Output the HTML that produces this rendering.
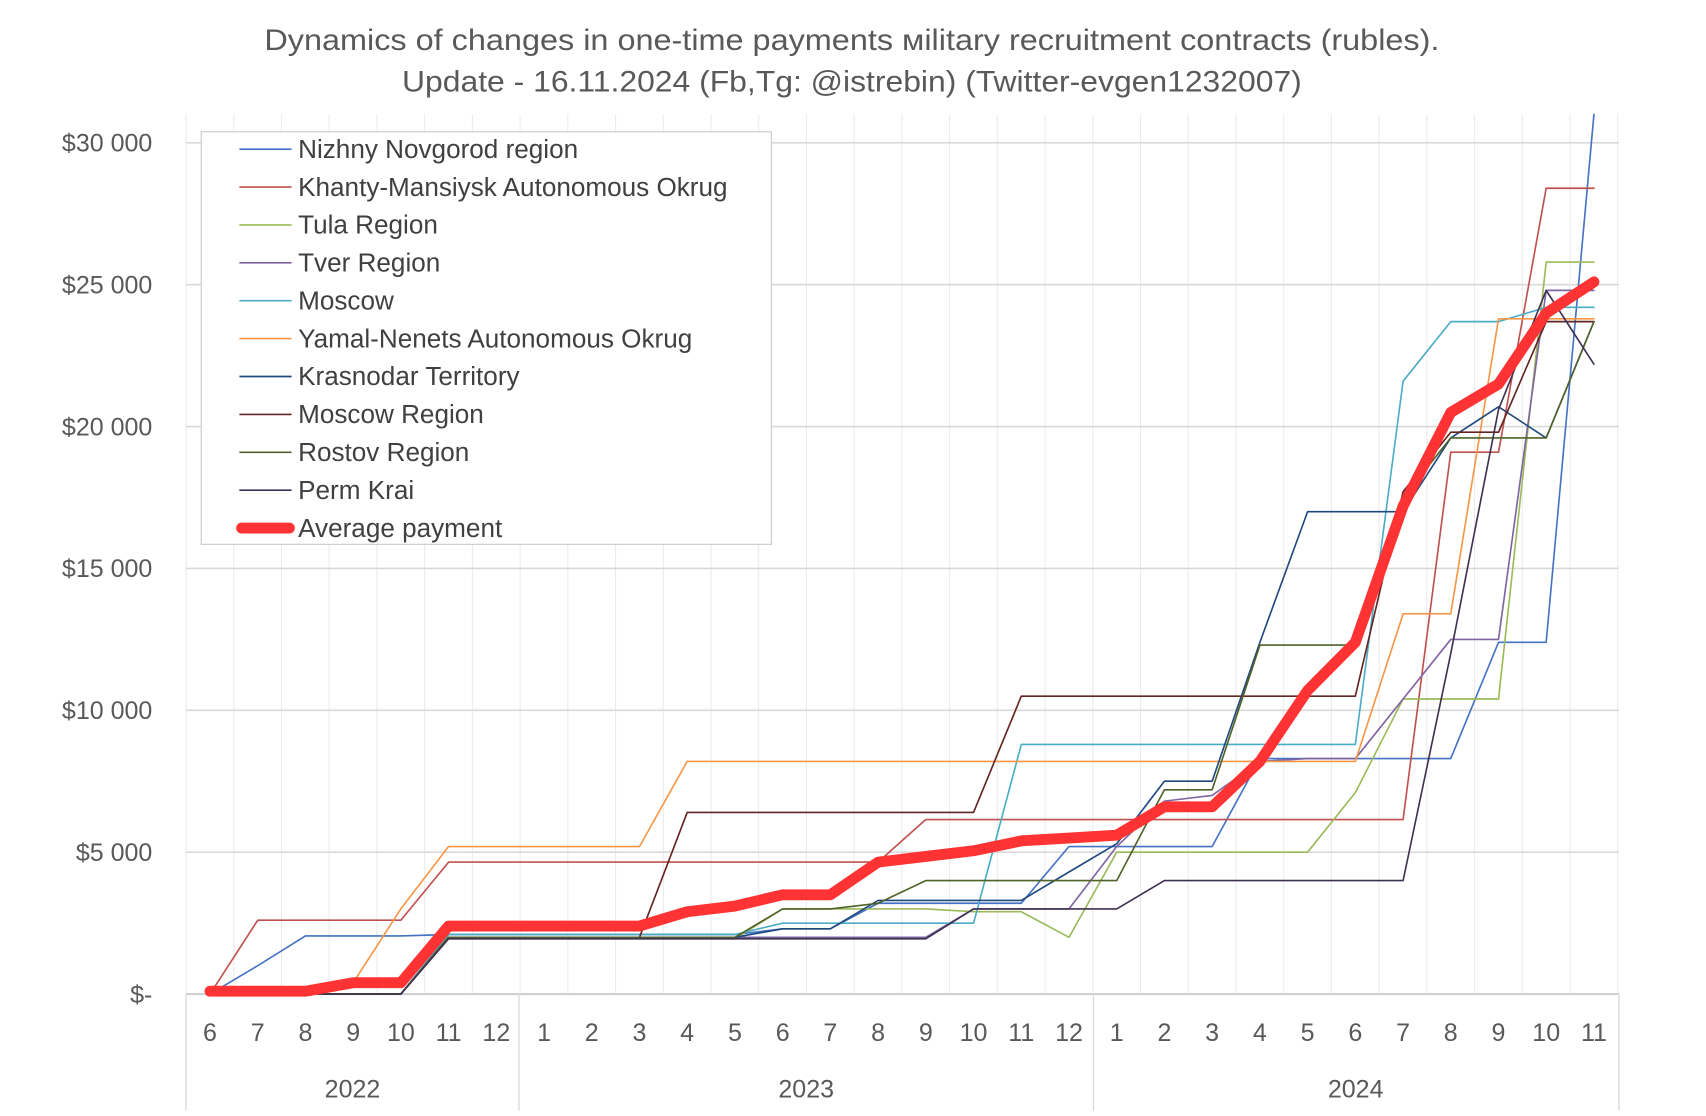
<!DOCTYPE html>
<html><head><meta charset="utf-8"><style>
html,body{margin:0;padding:0;background:#fff;}
svg{display:block;font-family:"Liberation Sans",sans-serif;}
</style></head><body>
<svg id="c" width="1706" height="1116" viewBox="0 0 1568 1025" preserveAspectRatio="none" xmlns="http://www.w3.org/2000/svg">
<g id="grid"></g>
<text x="783" y="46" font-size="27" fill="#595959" text-anchor="middle" textLength="1080" lengthAdjust="spacingAndGlyphs">Dynamics of changes in one-time payments мilitary recruitment contracts (rubles).</text>
<text x="783" y="84" font-size="27" fill="#595959" text-anchor="middle" textLength="827" lengthAdjust="spacingAndGlyphs">Update - 16.11.2024 (Fb,Tg: @istrebin) (Twitter-evgen1232007)</text>
<g id="series"></g>
<g id="labels" font-size="23" fill="#595959"></g>
<rect x="185" y="121" width="524" height="379" fill="#fff" stroke="#d0d0d0" stroke-width="1.2"/>
<g id="legend" font-size="24" fill="#404040"></g>
</svg>
<script>
const NS="http://www.w3.org/2000/svg";
function el(p,t,a,txt){const e=document.createElementNS(NS,t);for(const k in a)e.setAttribute(k,a[k]);if(txt!==undefined)e.textContent=txt;document.getElementById(p).appendChild(e);return e;}
const X0=193,DX=(1465-193)/29,L=171,R=1488,Y0=913;
const Y=v=>Y0-v*26.06;
for(let k=0;k<=30;k++){const x=L+k*DX;el("grid","line",{x1:x,y1:105,x2:x,y2:913,stroke:"#ebebeb","stroke-width":1});}
for(let i=1;i<=6;i++){el("grid","line",{x1:L,y1:Y(i*5),x2:R,y2:Y(i*5),stroke:"#d9d9d9","stroke-width":1.5});}
el("grid","line",{x1:L,y1:913,x2:R,y2:913,stroke:"#d0d0d0","stroke-width":2});
[171,477,1005,1488].forEach(x=>el("grid","line",{x1:x,y1:913,x2:x,y2:1020,stroke:"#d9d9d9","stroke-width":1.2}));
const yl=["$-","$5 000","$10 000","$15 000","$20 000","$25 000","$30 000"];
yl.forEach((t,i)=>el("labels","text",{x:140,y:Y(i*5)+8,"text-anchor":"end"},t));
const months=[6,7,8,9,10,11,12,1,2,3,4,5,6,7,8,9,10,11,12,1,2,3,4,5,6,7,8,9,10,11];
months.forEach((m,i)=>el("labels","text",{x:X0+i*DX,y:956,"text-anchor":"middle"},m));
el("labels","text",{x:324,y:1008,"text-anchor":"middle"},"2022");
el("labels","text",{x:741,y:1008,"text-anchor":"middle"},"2023");
el("labels","text",{x:1246,y:1008,"text-anchor":"middle"},"2024");
const S=[
["Nizhny Novgorod region","#4472C4",[0,1,2.05,2.05,2.05,2.1,2.1,2.1,2.1,2.1,2.1,2.1,2.3,2.3,3.2,3.2,3.2,3.2,5.2,5.2,5.2,5.2,8.3,8.3,8.3,8.3,8.3,12.4,12.4,31]],
["Khanty-Mansiysk Autonomous Okrug","#C0504D",[0,2.6,2.6,2.6,2.6,4.65,4.65,4.65,4.65,4.65,4.65,4.65,4.65,4.65,4.65,6.15,6.15,6.15,6.15,6.15,6.15,6.15,6.15,6.15,6.15,6.15,19.1,19.1,28.4,28.4]],
["Tula Region","#9BBB59",[0,0,0,0,0,1.95,1.95,1.95,1.95,1.95,1.95,1.95,3,3,3,3,2.9,2.9,2,5,5,5,5,5,7.1,10.4,10.4,10.4,25.8,25.8]],
["Tver Region","#8064A2",[0,0,0,0,0,2,2,2,2,2,2,2,2,2,2,2,3,3,3,5.2,6.8,7,8.2,8.3,8.3,10.4,12.5,12.5,24.8,24.8]],
["Moscow","#4BACC6",[0,0,0,0,0,2.1,2.1,2.1,2.1,2.1,2.1,2.1,2.5,2.5,2.5,2.5,2.5,8.8,8.8,8.8,8.8,8.8,8.8,8.8,8.8,21.6,23.7,23.7,24.2,24.2]],
["Yamal-Nenets Autonomous Okrug","#F79646",[0,0,0,0.4,3,5.2,5.2,5.2,5.2,5.2,8.2,8.2,8.2,8.2,8.2,8.2,8.2,8.2,8.2,8.2,8.2,8.2,8.2,8.2,8.2,13.4,13.4,23.8,23.8,23.8]],
["Krasnodar Territory","#1F497D",[0,0,0,0,0,2,2,2,2,2,2,2,2.3,2.3,3.3,3.3,3.3,3.3,4.3,5.3,7.5,7.5,12.4,17,17,17,19.6,20.7,19.6,23.7]],
["Moscow Region","#632523",[0,0,0,0,0,2,2,2,2,2,6.4,6.4,6.4,6.4,6.4,6.4,6.4,10.5,10.5,10.5,10.5,10.5,10.5,10.5,10.5,17.7,19.8,19.8,23.7,23.7]],
["Rostov Region","#4F6228",[0,0,0,0,0,2,2,2,2,2,2,2,3,3,3.2,4,4,4,4,4,7.2,7.2,12.3,12.3,12.3,17.5,19.6,19.6,19.6,23.7]],
["Perm Krai","#3F3151",[0,0,0,0,0,1.95,1.95,1.95,1.95,1.95,1.95,1.95,1.95,1.95,1.95,1.95,3,3,3,3,4,4,4,4,4,4,12,20.6,24.8,22.2]],
["Average payment","#FF3333",[0.1,0.1,0.1,0.4,0.4,2.4,2.4,2.4,2.4,2.4,2.9,3.1,3.5,3.5,4.65,4.85,5.05,5.4,5.5,5.6,6.6,6.6,8.2,10.7,12.4,17.2,20.5,21.5,24,25.1]]
];
S.forEach((s,i)=>{
 const avg=i==10;
 const pts=s[2].map((v,j)=>(X0+j*DX).toFixed(1)+","+Y(v).toFixed(1)).join(" ");
 el("series","polyline",{points:pts,fill:"none",stroke:s[1],"stroke-width":avg?10:1.5,"stroke-linejoin":"round","stroke-linecap":"round"});
 const ly=137+i*34.8;
 el("legend","line",{x1:avg?222:220,y1:ly,x2:avg?266:268,y2:ly,stroke:s[1],"stroke-width":avg?10:1.5,"stroke-linecap":avg?"round":"butt"});
 el("legend","text",{x:274,y:ly+8},s[0]);
});
</script>
</body></html>
